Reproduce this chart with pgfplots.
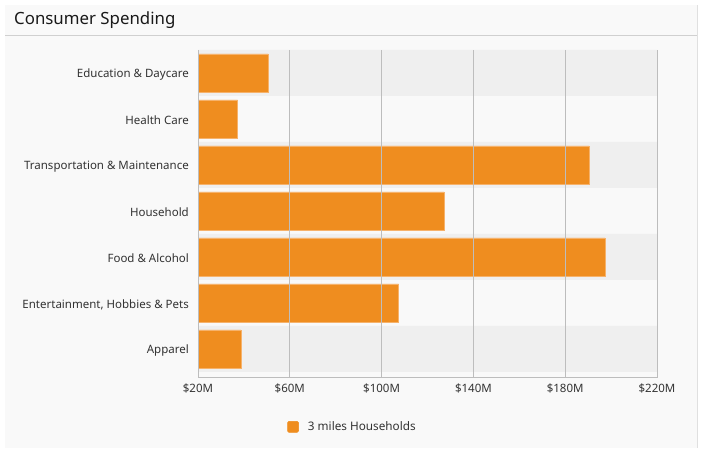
\documentclass[border=0pt]{standalone}
\usepackage{pgfplots}
\pgfplotsset{compat=1.18}
\usepackage{fontspec}
\setmainfont{Noto Sans}
\definecolor{barorange}{HTML}{EF8D1F}
\definecolor{baredge}{HTML}{F6B26B}
\definecolor{bandgray}{HTML}{EFEFEF}
\definecolor{cardbg}{HTML}{F9F9F9}
\definecolor{gridgray}{HTML}{BDBDBD}
\definecolor{txt}{HTML}{333333}
\definecolor{edge}{HTML}{E0E0E0}
\definecolor{sep}{HTML}{D0D0D0}
\begin{document}
\begin{tikzpicture}[x=1bp,y=1bp]
\fill[white] (0,0) rectangle (702,448);
\fill[cardbg] (5,0) rectangle (697,443);
\draw[edge, line width=0.8bp] (697,0) -- (697,443);
\draw[sep, line width=1bp] (5,412) -- (697,412);
\node[anchor=base west, inner sep=0pt, text=black!90, font=\fontsize{16.9}{20}\selectfont] at (14,423) {Consumer Spending};
\begin{axis}[
  at={(198bp,70bp)}, anchor=south west,
  scale only axis, width=459bp, height=328bp,
  xmin=20, xmax=220, ymin=-0.6304, ymax=6.5,
  xtick={20,60,100,140,180,220},
  xticklabels={\$20M,\$60M,\$100M,\$140M,\$180M,\$220M},
  ytick={0,1,2,3,4,5,6},
  yticklabels={Apparel,{Entertainment, Hobbies \& Pets},Food \& Alcohol,Household,Transportation \& Maintenance,Health Care,Education \& Daycare},
  major tick length=0pt,
  axis line style={draw=none},
  xmajorgrids, grid style={gridgray, line width=0.9bp},
  axis on top,
  tick label style={font=\fontsize{11.55}{14}\selectfont, text=txt},
  yticklabel style={inner sep=0pt, xshift=-9bp, yshift=-1.5bp},
  xticklabel style={inner sep=0pt, yshift=-6bp},
  legend style={at={(0.194,-0.149)}, anchor=west, draw=none, fill=none, font=\fontsize{11.8}{14}\selectfont, text=txt, inner sep=0pt, nodes={inner sep=0pt}},
  legend image code/.code={\fill[barorange, rounded corners=1.5bp] (0bp,-5.5bp) rectangle (11bp,5.5bp); \path (20bp,0bp);},
  every axis plot/.append style={xbar, bar shift=0pt},
]
\addplot[fill=bandgray, draw=none, bar width=46bp, forget plot] coordinates {(220,0) (220,2) (220,4) (220,6)};
\addplot[fill=barorange, draw=baredge, line width=0.7bp, bar width=38bp] coordinates {
(38.7,0) (107.4,1) (197.3,2) (127.2,3) (190.4,4) (37.3,5) (50.5,6)};
\addlegendentry{3 miles Households}
\draw[gridgray, line width=1bp] (rel axis cs:0,0) -- (rel axis cs:1,0);
\end{axis}
\end{tikzpicture}
\end{document}
